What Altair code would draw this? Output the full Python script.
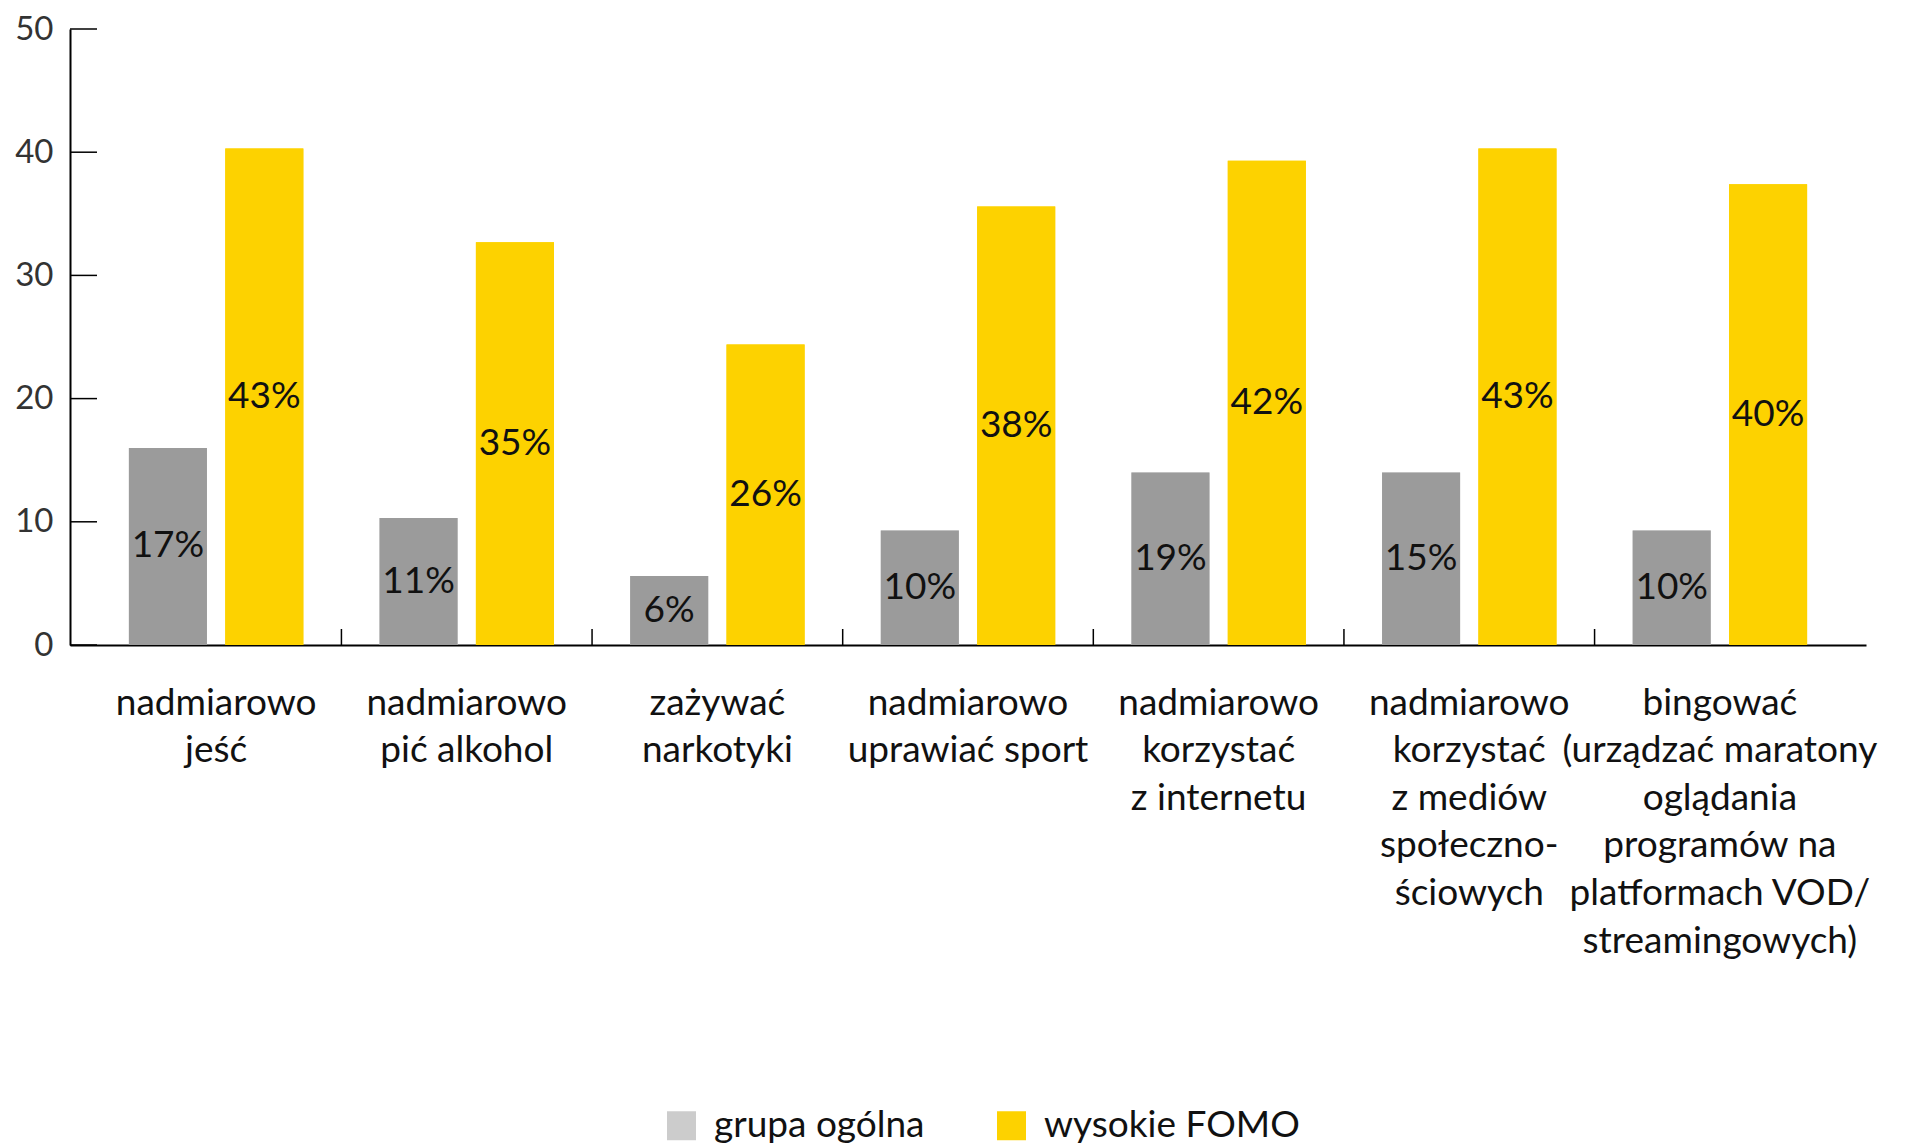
import altair as alt
import pandas as pd

categories = [
    "nadmiarowo|jeść",
    "nadmiarowo|pić alkohol",
    "zażywać|narkotyki",
    "nadmiarowo|uprawiać sport",
    "nadmiarowo|korzystać|z internetu",
    "nadmiarowo|korzystać|z mediów|społeczno-|ściowych",
    "bingować|(urządzać maratony|oglądania|programów na|platformach VOD/|streamingowych)",
]
groups = ["grupa ogólna", "wysokie FOMO"]
general_values = [16.0, 10.3, 5.6, 9.3, 14.0, 14.0, 9.3]
fomo_values = [40.3, 32.7, 24.4, 35.6, 39.3, 40.3, 37.4]
general_labels = ["17%", "11%", "6%", "10%", "19%", "15%", "10%"]
fomo_labels = ["43%", "35%", "26%", "38%", "42%", "43%", "40%"]
y_ticks = [0, 10, 20, 30, 40, 50]
dividers = [1, 2, 3, 4, 5, 6]

rows = []
for c, gv, fv, gl, fl in zip(categories, general_values, fomo_values, general_labels, fomo_labels):
    rows.append({"cat": c, "group": groups[0], "value": gv, "label": gl, "mid": gv / 2})
    rows.append({"cat": c, "group": groups[1], "value": fv, "label": fl, "mid": fv / 2})
df = pd.DataFrame(rows)

W, H = 1796, 616
FONT = "Lato"
PI, PO = 0.304, 0.235  # band padding inner / outer
half_gap = PO - PI / 2  # divider offset in step units

x_enc = alt.X(
    "cat:N", sort=categories,
    scale=alt.Scale(paddingInner=PI, paddingOuter=PO),
    axis=alt.Axis(title=None, labelAngle=0, labelAlign="center",
                  labelExpr="split(datum.label, '|')",
                  labelFont=FONT, labelFontSize=37, labelColor="#111111",
                  labelLineHeight=47.6, labelPadding=40, ticks=False,
                  domain=True, domainColor="#000000", domainWidth=2,
                  labelLimit=500, labelBaseline="top"),
)
xoff = alt.XOffset("group:N", sort=groups, scale=alt.Scale(paddingInner=0.19))
y_enc = alt.Y(
    "value:Q", scale=alt.Scale(domain=[0, 50], nice=False),
    axis=alt.Axis(values=y_ticks, title=None, ticks=False, grid=False,
                  domain=True, domainColor="#000000", domainWidth=2,
                  labelFont=FONT, labelFontSize=33, labelColor="#333333",
                  labelPadding=17),
)

base = alt.Chart(df)

# layer underneath the bars that only provides the legend (lighter grey swatch)
legend_layer = base.mark_bar().encode(
    x=x_enc, xOffset=xoff, y=y_enc,
    color=alt.Color("group:N", sort=groups,
                    scale=alt.Scale(domain=groups, range=["#cccccc", "#fdd200"]),
                    legend=alt.Legend(title=None, orient="none", direction="horizontal",
                                      legendX=593, legendY=1078,
                                      symbolType="square", symbolSize=841,
                                      symbolOpacity=1, symbolStrokeWidth=0,
                                      labelFont=FONT, labelFontSize=37,
                                      labelColor="#111111", labelOffset=14,
                                      labelLimit=400, columnPadding=68)),
)
bars = base.mark_bar().encode(
    x=x_enc, xOffset=xoff, y=y_enc,
    color=alt.Color("group:N", sort=groups,
                    scale=alt.Scale(domain=groups, range=["#9b9b9b", "#fdd200"]),
                    legend=None),
)
texts = base.mark_text(font=FONT, fontSize=37, color="#111111", baseline="middle").encode(
    x=alt.X("cat:N", sort=categories), xOffset=xoff,
    y=alt.Y("mid:Q"), text="label:N",
)

ytick_df = pd.DataFrame({"v": y_ticks})
yticks = alt.Chart(ytick_df).mark_rule(color="#000000", strokeWidth=1.5).encode(
    y=alt.Y("v:Q"), x=alt.value(0), x2=alt.value(27),
)

div_df = pd.DataFrame({"d": dividers})
divs = alt.Chart(div_df).mark_rule(color="#000000", strokeWidth=1.5).encode(
    x=alt.X("d:Q", scale=alt.Scale(domain=[-half_gap, 7 + half_gap], nice=False, zero=False),
            axis=None),
    y=alt.value(H), y2=alt.value(H - 16),
)

inner = alt.layer(legend_layer, bars, texts, yticks).resolve_scale(color="independent")

chart = alt.layer(inner, divs).resolve_scale(x="independent").properties(
    width=W, height=H,
    padding={"left": 6, "top": 5, "right": 5, "bottom": 0},
).configure_view(stroke=None)

chart.save("out.html", embed_options={"renderer": "svg", "actions": False})
